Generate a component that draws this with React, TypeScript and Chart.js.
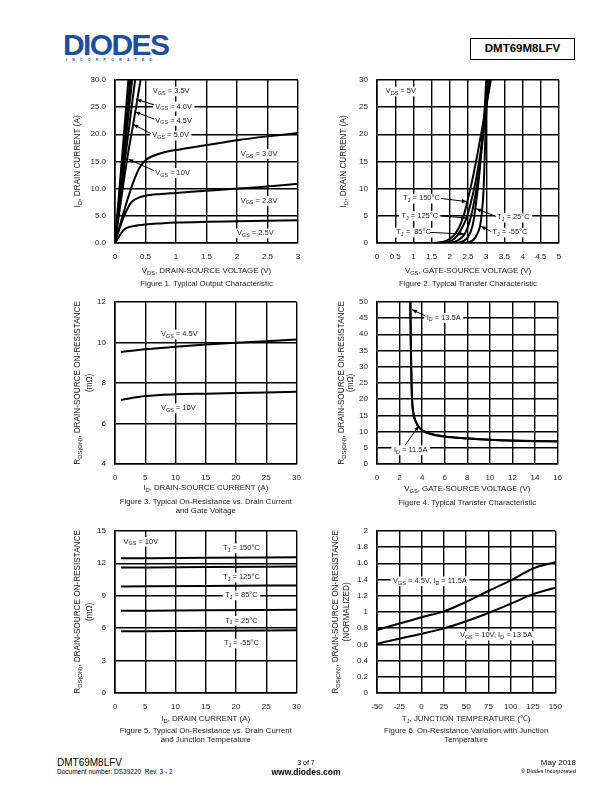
import React, { useEffect, useRef } from "react";
import { Chart, registerables } from "chart.js";

Chart.register(...registerables);

const FONT = '"Liberation Sans", Arial, Helvetica, sans-serif';
const INK = "#1a1a1a";

// ---------------- Figure 1: Typical Output Characteristic ----------------
const fig1XTicks = [0, 0.5, 1, 1.5, 2, 2.5, 3];
const fig1YTicks = [0, 5, 10, 15, 20, 25, 30];
const fig1Vgs10 = [[0, 0], [0.11, 15], [0.22, 30]];
const fig1Vgs50 = [[0, 0], [0.125, 15], [0.25, 30]];
const fig1Vgs45 = [[0, 0], [0.14, 15], [0.28, 30]];
const fig1Vgs40 = [[0, 0], [0.16, 15], [0.33, 30]];
const fig1Vgs35 = [[0, 0], [0.1, 8], [0.2, 15.5], [0.3, 22], [0.42, 30]];
const fig1Vgs30 = [[0, 0], [0.1, 4.0], [0.2, 7.8], [0.3, 11.2], [0.4, 13.8], [0.5, 15.2], [0.6, 15.9], [0.75, 16.5], [1, 17.1], [1.5, 18.0], [2, 18.9], [2.5, 19.6], [3, 20.2]];
const fig1Vgs28 = [[0, 0], [0.05, 1.8], [0.1, 3.5], [0.15, 5.0], [0.2, 6.2], [0.25, 7.2], [0.3, 7.8], [0.4, 8.4], [0.5, 8.7], [0.75, 9.0], [1, 9.2], [1.5, 9.6], [2, 10.0], [2.5, 10.4], [3, 10.9]];
const fig1Vgs25 = [[0, 0], [0.05, 0.9], [0.1, 1.8], [0.15, 2.5], [0.2, 2.8], [0.3, 3.1], [0.5, 3.4], [0.75, 3.6], [1, 3.75], [1.5, 3.9], [2, 4.0], [2.5, 4.1], [3, 4.2]];

// ---------------- Figure 2: Typical Transfer Characteristic ----------------
const fig2XTicks = [0, 0.5, 1, 1.5, 2, 2.5, 3, 3.5, 4, 4.5, 5];
const fig2YTicks = [0, 5, 10, 15, 20, 25, 30];
const fig2T150 = [[1.0, 0], [1.4, 0], [1.7, 0.1], [1.9, 0.4], [2.1, 1.3], [2.25, 2.8], [2.38, 5], [2.48, 7.6], [2.6, 11], [2.75, 16], [2.9, 21.5], [3.05, 27], [3.13, 30]];
const fig2T125 = [[1.0, 0], [1.6, 0], [1.85, 0.1], [2.05, 0.45], [2.2, 1.3], [2.35, 3.0], [2.46, 4.6], [2.57, 7.2], [2.7, 11], [2.83, 16], [2.95, 22], [3.05, 27.5], [3.1, 30]];
const fig2T85 = [[1.0, 0], [1.8, 0], [2.05, 0.1], [2.25, 0.6], [2.41, 1.65], [2.52, 3.4], [2.62, 6], [2.72, 9.5], [2.82, 14], [2.92, 20], [3.0, 25.5], [3.05, 30]];
const fig2T25 = [[1.0, 0], [2.0, 0], [2.25, 0.1], [2.45, 0.7], [2.57, 2.0], [2.65, 4.0], [2.7, 6.3], [2.76, 9.5], [2.83, 14], [2.9, 20], [2.96, 25], [3.0, 30]];
const fig2Tm55 = [[1.0, 0], [2.25, 0], [2.5, 0.1], [2.65, 0.6], [2.75, 1.6], [2.83, 3.1], [2.88, 5.5], [2.93, 10], [2.96, 16], [2.99, 22], [3.01, 26], [3.03, 30]];

// ---------------- Figure 3: On-Resistance vs Drain Current & Gate Voltage ----------------
const fig3XTicks = [0, 5, 10, 15, 20, 25, 30];
const fig3YTicks = [4, 6, 8, 10, 12];
const fig3Vgs45 = [[1, 9.52], [5, 9.66], [10, 9.78], [15, 9.89], [20, 9.98], [25, 10.06], [30, 10.14]];
const fig3Vgs10 = [[1, 7.16], [5, 7.35], [10, 7.44], [15, 7.47], [20, 7.5], [25, 7.53], [30, 7.56]];

// ---------------- Figure 4: RDS(ON) vs VGS ----------------
const fig4XTicks = [0, 2, 4, 6, 8, 10, 12, 14, 16];
const fig4YTicks = [0, 5, 10, 15, 20, 25, 30, 35, 40, 45, 50];
const fig4Id135 = [[2.95, 50], [3.0, 35], [3.05, 26], [3.1, 20], [3.2, 16], [3.4, 13.3], [3.8, 11], [4.6, 9.5], [6, 8.5], [8, 7.9], [10, 7.5], [12, 7.25], [14, 7.1], [16, 7.0]];
const fig4Id115 = [[2.96, 50], [3.01, 35], [3.06, 26], [3.11, 20], [3.21, 16], [3.42, 13.2], [3.82, 10.9], [4.6, 9.4], [6, 8.45], [8, 7.85], [10, 7.45], [12, 7.2], [14, 7.05], [16, 6.95]];

// ---------------- Figure 5: On-Resistance vs Drain Current & Temperature ----------------
const fig5XTicks = [0, 5, 10, 15, 20, 25, 30];
const fig5YTicks = [0, 3, 6, 9, 12, 15];
const fig5T150 = [[1, 12.45], [15, 12.5], [30, 12.55]];
const fig5T125 = [[1, 11.6], [15, 11.65], [30, 11.7]];
const fig5T85 = [[1, 9.86], [15, 9.9], [30, 9.95]];
const fig5T25 = [[1, 7.6], [15, 7.65], [30, 7.7]];
const fig5Tm55 = [[1, 5.7], [15, 5.75], [30, 5.8]];

// ---------------- Figure 6: Normalized RDS(ON) vs Junction Temperature ----------------
const fig6XTicks = [-50, -25, 0, 25, 50, 75, 100, 125, 150];
const fig6YTicks = [0, 0.2, 0.4, 0.6, 0.8, 1, 1.2, 1.4, 1.6, 1.8, 2];
const fig6Temps = [-50, -25, 0, 25, 50, 75, 100, 125, 150];
const fig6Vgs45 = [0.777, 0.856, 0.935, 1.006, 1.124, 1.258, 1.389, 1.535, 1.613];
const fig6Vgs10 = [0.607, 0.67, 0.73, 0.797, 0.884, 0.986, 1.1, 1.219, 1.298];

// ------------------------------------------------------------------------
type Lbl = { x: number; y: number; text: string; align?: "left" | "center" | "right" };
type Arr = { x1: number; y1: number; x2: number; y2: number };
type Ann = {
  labels: Lbl[];
  arrows: Arr[];
  yTitle: { text: string; dx: number }[];
  xTitle: { text: string; dy: number };
  caption: { text: string; dy: number }[];
};

function parseRich(s: string) {
  const out: { t: string; sub: boolean }[] = [];
  const re = /_\{([^}]*)\}/g;
  let last = 0;
  let m: RegExpExecArray | null;
  while ((m = re.exec(s))) {
    if (m.index > last) out.push({ t: s.slice(last, m.index), sub: false });
    out.push({ t: m[1], sub: true });
    last = re.lastIndex;
  }
  if (last < s.length) out.push({ t: s.slice(last), sub: false });
  return out;
}

function drawRich(ctx: CanvasRenderingContext2D, s: string, x: number, y: number, size: number, align: string, bg: boolean, bold = false) {
  const parts = parseRich(s);
  const sub = size * 0.72;
  const fw = bold ? "bold " : "";
  let w = 0;
  const ws: number[] = [];
  for (const p of parts) {
    ctx.font = `${fw}${p.sub ? sub : size}px ${FONT}`;
    const pw = ctx.measureText(p.t).width;
    ws.push(pw);
    w += pw;
  }
  let x0 = align === "left" ? x : align === "center" ? x - w / 2 : x - w;
  if (bg) {
    ctx.fillStyle = "#ffffff";
    ctx.fillRect(x0 - 2.5, y - size * 0.62, w + 5, size * 1.3);
  }
  ctx.fillStyle = INK;
  ctx.textAlign = "left";
  ctx.textBaseline = "middle";
  parts.forEach((p, i) => {
    ctx.font = `${fw}${p.sub ? sub : size}px ${FONT}`;
    ctx.fillText(p.t, x0, y + (p.sub ? size * 0.3 : 0));
    x0 += ws[i];
  });
}

function drawArrow(ctx: CanvasRenderingContext2D, x1: number, y1: number, x2: number, y2: number) {
  ctx.strokeStyle = "#000";
  ctx.fillStyle = "#000";
  ctx.lineWidth = 1;
  ctx.beginPath();
  ctx.moveTo(x1, y1);
  ctx.lineTo(x2, y2);
  ctx.stroke();
  const a = Math.atan2(y2 - y1, x2 - x1);
  const L = 5, W = 2;
  ctx.beginPath();
  ctx.moveTo(x2, y2);
  ctx.lineTo(x2 - L * Math.cos(a) + W * Math.sin(a), y2 - L * Math.sin(a) - W * Math.cos(a));
  ctx.lineTo(x2 - L * Math.cos(a) - W * Math.sin(a), y2 - L * Math.sin(a) + W * Math.cos(a));
  ctx.closePath();
  ctx.fill();
}

function textPlugin(ann: Ann) {
  return {
    id: "sheetText",
    afterDraw(chart: any) {
      const ctx: CanvasRenderingContext2D = chart.ctx;
      const xs = chart.scales.x;
      const ys = chart.scales.y;
      const ca = chart.chartArea;
      ctx.save();
      for (const l of ann.labels) {
        drawRich(ctx, l.text, xs.getPixelForValue(l.x), ys.getPixelForValue(l.y), 7.5, l.align || "left", true);
      }
      for (const a of ann.arrows) {
        drawArrow(ctx, xs.getPixelForValue(a.x1), ys.getPixelForValue(a.y1), xs.getPixelForValue(a.x2), ys.getPixelForValue(a.y2));
      }
      const midY = (ca.top + ca.bottom) / 2;
      const midX = (ca.left + ca.right) / 2;
      for (const t of ann.yTitle) {
        ctx.save();
        ctx.translate(ca.left + t.dx, midY);
        ctx.rotate(-Math.PI / 2);
        drawRich(ctx, t.text, 0, 0, 8.2, "center", false);
        ctx.restore();
      }
      drawRich(ctx, ann.xTitle.text, midX, ca.bottom + ann.xTitle.dy, 7.9, "center", false);
      for (const c of ann.caption) drawRich(ctx, c.text, midX, ca.bottom + c.dy, 7.8, "center", false);
      ctx.restore();
    },
  };
}

const PADL = 58, PADT = 6, PADR = 12, PADB = 54;

function pts(a: number[][]) {
  return a.map(([x, y]) => ({ x, y }));
}

function buildConfig(o: {
  xMin: number; xMax: number; xTicks: number[];
  yMin: number; yMax: number; yTicks: number[];
  yFmt?: (v: number) => string;
  series: { label: string; data: { x: number; y: number }[] }[];
  ann: Ann;
}): any {
  const tickFont = { family: FONT, size: 8 };
  return {
    type: "line",
    data: {
      datasets: o.series.map((s) => ({
        label: s.label,
        data: s.data,
        borderColor: "#000",
        borderWidth: 2,
        pointRadius: 0,
        fill: false,
        cubicInterpolationMode: "monotone",
      })),
    },
    options: {
      animation: false,
      responsive: false,
      devicePixelRatio: 1,
      layout: { padding: { left: 0, top: PADT, right: PADR, bottom: 0 } },
      plugins: { legend: { display: false }, tooltip: { enabled: false }, title: { display: false } },
      scales: {
        x: {
          type: "linear",
          min: o.xMin,
          max: o.xMax,
          afterBuildTicks: (s: any) => { s.ticks = o.xTicks.map((v) => ({ value: v })); },
          afterFit: (s: any) => { s.height = PADB; },
          grid: { color: "#000", lineWidth: 1.4, drawTicks: false },
          border: { color: "#000", width: 1.6 },
          ticks: { padding: 9, color: INK, font: tickFont, maxRotation: 0, autoSkip: false, callback: (v: any) => String(v) },
        },
        y: {
          type: "linear",
          min: o.yMin,
          max: o.yMax,
          afterBuildTicks: (s: any) => { s.ticks = o.yTicks.map((v) => ({ value: v })); },
          afterFit: (s: any) => { s.width = PADL; },
          grid: { color: "#000", lineWidth: 1.4, drawTicks: false },
          border: { color: "#000", width: 1.6 },
          ticks: { padding: 9, color: INK, font: tickFont, autoSkip: false, callback: (v: any) => (o.yFmt ? o.yFmt(Number(v)) : String(v)) },
        },
      },
    },
    plugins: [textPlugin(o.ann)],
  };
}

function Panel(props: { L: number; T: number; R: number; B: number; config: any }) {
  const ref = useRef<HTMLCanvasElement>(null);
  const { L, T, R, B, config } = props;
  const w = R - L + PADL + PADR;
  const h = B - T + PADT + PADB;
  useEffect(() => {
    const chart = new Chart(ref.current as HTMLCanvasElement, config);
    return () => chart.destroy();
  }, []);
  return (
    <div style={{ position: "absolute", left: L - PADL, top: T - PADT, width: w, height: h }}>
      <canvas ref={ref} width={w} height={h} style={{ width: w, height: h, display: "block" }} />
    </div>
  );
}

const RDS_TITLE = "R_{DS(ON)}, DRAIN-SOURCE ON-RESISTANCE";

const cfg1 = buildConfig({
  xMin: 0, xMax: 3, xTicks: fig1XTicks, yMin: 0, yMax: 30, yTicks: fig1YTicks,
  yFmt: (v) => v.toFixed(1),
  series: [
    { label: "VGS=10V", data: pts(fig1Vgs10) },
    { label: "VGS=5.0V", data: pts(fig1Vgs50) },
    { label: "VGS=4.5V", data: pts(fig1Vgs45) },
    { label: "VGS=4.0V", data: pts(fig1Vgs40) },
    { label: "VGS=3.5V", data: pts(fig1Vgs35) },
    { label: "VGS=3.0V", data: pts(fig1Vgs30) },
    { label: "VGS=2.8V", data: pts(fig1Vgs28) },
    { label: "VGS=2.5V", data: pts(fig1Vgs25) },
  ],
  ann: {
    labels: [
      { x: 0.62, y: 27.9, text: "V_{GS} = 3.5V" },
      { x: 0.66, y: 25.1, text: "V_{GS} = 4.0V" },
      { x: 0.66, y: 22.5, text: "V_{GS} = 4.5V" },
      { x: 0.61, y: 19.8, text: "V_{GS} = 5.0V" },
      { x: 0.66, y: 12.9, text: "V_{GS} = 10V" },
      { x: 2.06, y: 16.4, text: "V_{GS} = 3.0V" },
      { x: 2.06, y: 7.8, text: "V_{GS} = 2.8V" },
      { x: 2.0, y: 1.8, text: "V_{GS} = 2.5V" },
    ],
    arrows: [
      { x1: 0.64, y1: 25.4, x2: 0.35, y2: 26.4 },
      { x1: 0.64, y1: 22.8, x2: 0.33, y2: 24.1 },
      { x1: 0.59, y1: 20.1, x2: 0.3, y2: 21.8 },
      { x1: 0.64, y1: 13.3, x2: 0.22, y2: 15.4 },
    ],
    yTitle: [{ text: "I_{D}, DRAIN CURRENT (A)", dx: -37 }],
    xTitle: { text: "V_{DS}, DRAIN-SOURCE VOLTAGE (V)", dy: 28 },
    caption: [{ text: "Figure 1. Typical Output Characteristic", dy: 41 }],
  },
});

const cfg2 = buildConfig({
  xMin: 0, xMax: 5, xTicks: fig2XTicks, yMin: 0, yMax: 30, yTicks: fig2YTicks,
  series: [
    { label: "TJ=150", data: pts(fig2T150) },
    { label: "TJ=125", data: pts(fig2T125) },
    { label: "TJ=85", data: pts(fig2T85) },
    { label: "TJ=25", data: pts(fig2T25) },
    { label: "TJ=-55", data: pts(fig2Tm55) },
  ],
  ann: {
    labels: [
      { x: 0.24, y: 27.9, text: "V_{DS} = 5V" },
      { x: 0.72, y: 8.2, text: "T_{J} = 150°C" },
      { x: 0.67, y: 5.0, text: "T_{J} = 125°C" },
      { x: 0.53, y: 1.95, text: "T_{J} =  85°C" },
      { x: 3.3, y: 4.7, text: "T_{J} = 25°C" },
      { x: 3.17, y: 1.95, text: "T_{J} = -55°C" },
    ],
    arrows: [
      { x1: 1.75, y1: 8.2, x2: 2.47, y2: 7.6 },
      { x1: 1.72, y1: 5.0, x2: 2.45, y2: 4.6 },
      { x1: 1.45, y1: 1.95, x2: 2.4, y2: 1.65 },
      { x1: 3.27, y1: 4.9, x2: 2.72, y2: 6.3 },
      { x1: 3.14, y1: 2.1, x2: 2.85, y2: 3.1 },
    ],
    yTitle: [{ text: "I_{D}, DRAIN CURRENT (A)", dx: -33 }],
    xTitle: { text: "V_{GS}, GATE-SOURCE VOLTAGE (V)", dy: 28 },
    caption: [{ text: "Figure 2. Typical Transfer Characteristic", dy: 41 }],
  },
});

const cfg3 = buildConfig({
  xMin: 0, xMax: 30, xTicks: fig3XTicks, yMin: 4, yMax: 12, yTicks: fig3YTicks,
  series: [
    { label: "VGS=4.5V", data: pts(fig3Vgs45) },
    { label: "VGS=10V", data: pts(fig3Vgs10) },
  ],
  ann: {
    labels: [
      { x: 7.6, y: 10.4, text: "V_{GS} = 4.5V" },
      { x: 7.6, y: 6.75, text: "V_{GS} = 10V" },
    ],
    arrows: [],
    yTitle: [
      { text: RDS_TITLE, dx: -37 },
      { text: "(mΩ)", dx: -25 },
    ],
    xTitle: { text: "I_{D}, DRAIN-SOURCE CURRENT (A)", dy: 24 },
    caption: [
      { text: "Figure 3. Typical On-Resistance vs. Drain Current", dy: 38 },
      { text: "and Gate Voltage", dy: 47 },
    ],
  },
});

const cfg4 = buildConfig({
  xMin: 0, xMax: 16, xTicks: fig4XTicks, yMin: 0, yMax: 50, yTicks: fig4YTicks,
  series: [
    { label: "ID=13.5A", data: pts(fig4Id135) },
    { label: "ID=11.5A", data: pts(fig4Id115) },
  ],
  ann: {
    labels: [
      { x: 4.4, y: 45.1, text: "I_{D} = 13.5A" },
      { x: 1.5, y: 4.3, text: "I_{D} = 11.5A" },
    ],
    arrows: [
      { x1: 4.3, y1: 45.6, x2: 3.1, y2: 47.6 },
      { x1: 2.5, y1: 5.8, x2: 3.7, y2: 11.8 },
    ],
    yTitle: [
      { text: RDS_TITLE, dx: -35 },
      { text: "(mΩ)", dx: -26 },
    ],
    xTitle: { text: "V_{GS}, GATE-SOURCE VOLTAGE (V)", dy: 25 },
    caption: [{ text: "Figure 4. Typical Transfer Characteristic", dy: 39 }],
  },
});

const cfg5 = buildConfig({
  xMin: 0, xMax: 30, xTicks: fig5XTicks, yMin: 0, yMax: 15, yTicks: fig5YTicks,
  series: [
    { label: "TJ=150", data: pts(fig5T150) },
    { label: "TJ=125", data: pts(fig5T125) },
    { label: "TJ=85", data: pts(fig5T85) },
    { label: "TJ=25", data: pts(fig5T25) },
    { label: "TJ=-55", data: pts(fig5Tm55) },
  ],
  ann: {
    labels: [
      { x: 1.4, y: 14.0, text: "V_{GS} = 10V" },
      { x: 20.9, y: 13.4, text: "T_{J} = 150°C", align: "center" },
      { x: 20.9, y: 10.7, text: "T_{J} = 125°C", align: "center" },
      { x: 20.9, y: 9.05, text: "T_{J} = 85°C", align: "center" },
      { x: 20.9, y: 6.7, text: "T_{J} = 25°C", align: "center" },
      { x: 20.9, y: 4.6, text: "T_{J} = -55°C", align: "center" },
    ],
    arrows: [],
    yTitle: [
      { text: RDS_TITLE, dx: -37 },
      { text: "(mΩ)", dx: -25 },
    ],
    xTitle: { text: "I_{D}, DRAIN CURRENT (A)", dy: 26 },
    caption: [
      { text: "Figure 5. Typical On-Resistance vs. Drain Current", dy: 38 },
      { text: "and Junction Temperature", dy: 47 },
    ],
  },
});

const cfg6 = buildConfig({
  xMin: -50, xMax: 150, xTicks: fig6XTicks, yMin: 0, yMax: 2, yTicks: fig6YTicks,
  series: [
    { label: "VGS=4.5V, ID=11.5A", data: fig6Temps.map((t, i) => ({ x: t, y: fig6Vgs45[i] })) },
    { label: "VGS=10V, ID=13.5A", data: fig6Temps.map((t, i) => ({ x: t, y: fig6Vgs10[i] })) },
  ],
  ann: {
    labels: [
      { x: -32, y: 1.38, text: "V_{GS} = 4.5V, I_{D} = 11.5A" },
      { x: 43, y: 0.71, text: "V_{GS} = 10V, I_{D} = 13.5A" },
    ],
    arrows: [],
    yTitle: [
      { text: RDS_TITLE, dx: -41 },
      { text: "(NORMALIZED)", dx: -30 },
    ],
    xTitle: { text: "T_{J}, JUNCTION TEMPERATURE (℃)", dy: 26 },
    caption: [
      { text: "Figure 6. On-Resistance Variation with Junction", dy: 38 },
      { text: "Temperature", dy: 47 },
    ],
  },
});

function Txt(props: { x: number; y: number; size: number; children: any; align?: "left" | "center" | "right"; bold?: boolean; color?: string; spacing?: number }) {
  const { x, y, size, align = "left", bold, color = "#000", spacing } = props;
  const style: any = {
    position: "absolute",
    top: y - size / 2,
    fontSize: size,
    lineHeight: `${size}px`,
    fontFamily: FONT,
    fontWeight: bold ? 700 : 400,
    color,
    whiteSpace: "nowrap",
    letterSpacing: spacing,
  };
  if (align === "left") style.left = x;
  else if (align === "right") style.right = 612 - x;
  else { style.left = x; style.transform = "translateX(-50%)"; }
  return <div style={style}>{props.children}</div>;
}

export default function App() {
  return (
    <div style={{ position: "absolute", left: 0, top: 0, width: 612, height: 792, background: "#fff", overflow: "hidden" }}>
      {/* Header */}
      <Txt x={63} y={45} size={30} bold color="#1d4f9e" spacing={-1.6}>DIODES</Txt>
      <Txt x={66} y={61} size={3.6} bold color="#1d4f9e" spacing={5.2}>INCORPORATED</Txt>
      <div style={{ position: "absolute", left: 470, top: 38, width: 105, height: 22, border: "1px solid #000", boxSizing: "border-box" }} />
      <Txt x={522.5} y={49} size={11.5} bold align="center">DMT69M8LFV</Txt>

      <Panel L={115} T={72} R={298} B={243} config={cfg1} />
      <Panel L={377} T={72} R={559} B={243} config={cfg2} />
      <Panel L={115} T={294} R={298} B={464} config={cfg3} />
      <Panel L={377} T={294} R={559} B={464} config={cfg4} />
      <Panel L={115} T={523} R={298} B={693} config={cfg5} />
      <Panel L={377} T={523} R={559} B={693} config={cfg6} />

      {/* Footer */}
      <Txt x={57} y={763} size={10}>DMT69M8LFV</Txt>
      <Txt x={57} y={772} size={6.5}>Document number: DS39220&nbsp; Rev. 3 - 2</Txt>
      <Txt x={306} y={762} size={7} align="center">3 of 7</Txt>
      <Txt x={306} y={772} size={8.5} bold align="center">www.diodes.com</Txt>
      <Txt x={576} y={763} size={8} align="right">May 2018</Txt>
      <Txt x={576} y={772} size={5.5} align="right">© Diodes Incorporated</Txt>
    </div>
  );
}
